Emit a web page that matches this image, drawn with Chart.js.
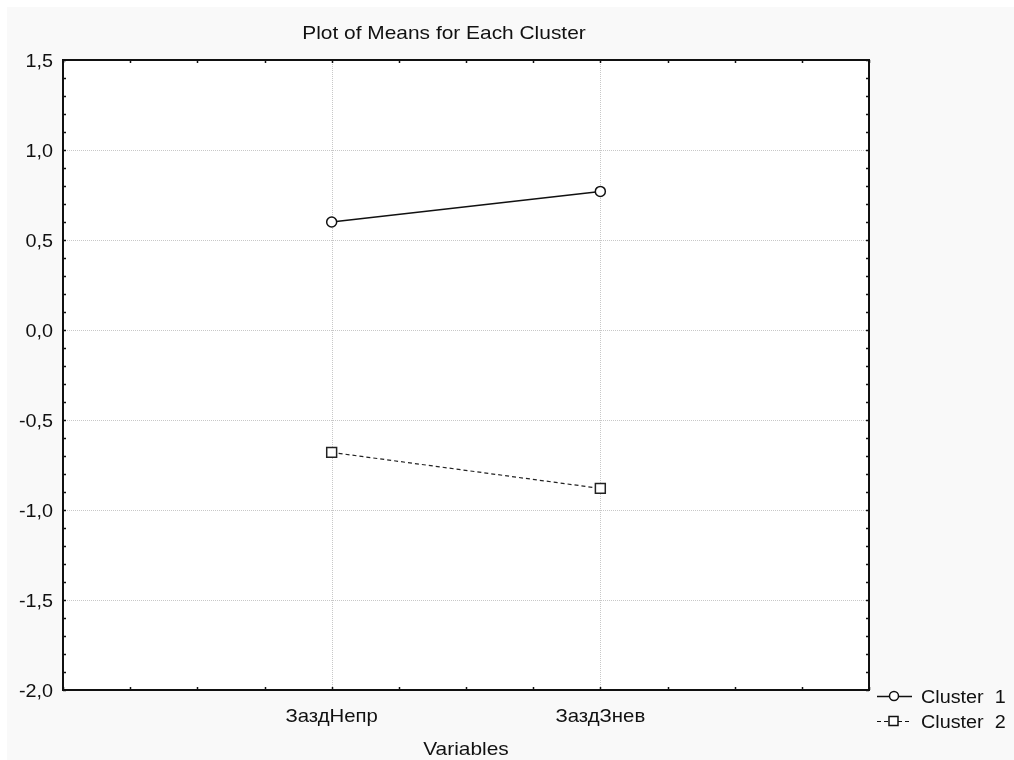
<!DOCTYPE html>
<html lang="ru">
  <head>
    <meta charset="UTF-8" />
    <title>Plot of Means for Each Cluster</title>
    <script src="https://cdn.jsdelivr.net/npm/chart.js"></script>
    <style>
      html, body { margin: 0; padding: 0; background: #ffffff; }
      #wrap { width: 1014px; height: 760px; }
    </style>
  </head>
  <body>
    <div id="wrap"><canvas id="myChart" width="1014" height="760"></canvas></div>
    <script>
      // данные графика
      var categories = ["ЗаздНепр", "ЗаздЗнев"];
      var cluster1 = [0.6, 0.77];
      var cluster2 = [-0.68, -0.88];
      var seriesNames = ["Cluster  1", "Cluster  2"];
      var yTicks = [1.5, 1.0, 0.5, 0.0, -0.5, -1.0, -1.5, -2.0];
      var chartTitle = "Plot of Means for Each Cluster";
      var xTitle = "Variables";

      var FONT = '"Liberation Sans", Arial, sans-serif';
      var SX = 1.1; // текст в оригинале немного растянут по горизонтали

      function stretchText(ctx, txt, x, y, size, align) {
        ctx.save();
        ctx.font = size + "px " + FONT;
        ctx.textBaseline = "alphabetic";
        ctx.textAlign = "left";
        var w = ctx.measureText(txt).width * SX;
        var left = align === "center" ? x - w / 2 : align === "right" ? x - w : x;
        ctx.translate(left, y);
        ctx.scale(SX, 1);
        ctx.fillStyle = "#111111";
        ctx.fillText(txt, 0, 0);
        ctx.restore();
      }

      function fmt(v) {
        return v.toFixed(1).replace(".", ",");
      }

      // фон, сетка, рамка, подписи
      var decor = {
        id: "decor",
        beforeDraw: function (chart) {
          var ctx = chart.ctx;
          var a = chart.chartArea;
          ctx.save();
          ctx.fillStyle = "#ffffff";
          ctx.fillRect(0, 0, chart.width, chart.height);
          ctx.fillStyle = "#f9f9f9";
          ctx.fillRect(7, 7, chart.width - 7, chart.height - 7);
          ctx.fillStyle = "#ffffff";
          ctx.fillRect(a.left, a.top, a.right - a.left, a.bottom - a.top);
          ctx.restore();
        },
        beforeDatasetsDraw: function (chart) {
          var ctx = chart.ctx;
          var a = chart.chartArea;
          var xs = chart.scales.x;
          var ys = chart.scales.y;
          ctx.save();
          ctx.strokeStyle = "#c8c8c8";
          ctx.lineWidth = 1;
          ctx.setLineDash([1, 1]);
          yTicks.forEach(function (v) {
            var y = Math.round(ys.getPixelForValue(v)) + 0.5;
            if (y <= a.top + 1 || y >= a.bottom - 1) return;
            ctx.beginPath();
            ctx.moveTo(a.left, y);
            ctx.lineTo(a.right, y);
            ctx.stroke();
          });
          categories.forEach(function (c, i) {
            var x = Math.round(xs.getPixelForValue(i + 1)) + 0.5;
            ctx.beginPath();
            ctx.moveTo(x, a.top);
            ctx.lineTo(x, a.bottom);
            ctx.stroke();
          });
          ctx.restore();
        },
        afterDatasetsDraw: function (chart) {
          var ctx = chart.ctx;
          var a = chart.chartArea;
          var xs = chart.scales.x;
          var ys = chart.scales.y;
          ctx.save();
          ctx.strokeStyle = "#111111";
          ctx.lineWidth = 1.5;
          // малые деления по Y через 0,1
          for (var k = -20; k <= 15; k++) {
            var y = Math.round(ys.getPixelForValue(k / 10)) + 0.5;
            ctx.beginPath();
            ctx.moveTo(a.left, y);
            ctx.lineTo(a.left + 3, y);
            ctx.moveTo(a.right, y);
            ctx.lineTo(a.right - 3, y);
            ctx.stroke();
          }
          // деления по X через 0,25
          for (var j = 0; j <= 12; j++) {
            var x = Math.round(xs.getPixelForValue(j / 4)) + 0.5;
            ctx.beginPath();
            ctx.moveTo(x, a.bottom);
            ctx.lineTo(x, a.bottom - 3);
            ctx.moveTo(x, a.top);
            ctx.lineTo(x, a.top + 3);
            ctx.stroke();
          }
          // рамка
          ctx.lineWidth = 2;
          ctx.strokeRect(a.left, a.top, a.right - a.left, a.bottom - a.top);
          ctx.restore();

          // подписи
          stretchText(ctx, chartTitle, 444, 39, 19, "center");
          yTicks.forEach(function (v) {
            stretchText(ctx, fmt(v), 53, ys.getPixelForValue(v) + 6.5, 18, "right");
          });
          categories.forEach(function (c, i) {
            stretchText(ctx, c, xs.getPixelForValue(i + 1), 722, 18.5, "center");
          });
          stretchText(ctx, xTitle, 466, 755, 19, "center");

          // легенда
          var legendY = [696, 721];
          chart.data.datasets.forEach(function (ds, i) {
            var ly = legendY[i];
            ctx.save();
            ctx.strokeStyle = "#111111";
            ctx.lineWidth = ds.borderWidth;
            ctx.setLineDash(ds.borderDash || []);
            ctx.beginPath();
            ctx.moveTo(877, ly + 0.5);
            ctx.lineTo(912, ly + 0.5);
            ctx.stroke();
            ctx.setLineDash([]);
            ctx.fillStyle = "#ffffff";
            ctx.lineWidth = 1.5;
            ctx.beginPath();
            if (ds.pointStyle === "rect") {
              ctx.rect(889, ly - 4.5, 9, 9);
            } else {
              ctx.arc(894, ly, 4.5, 0, Math.PI * 2);
            }
            ctx.fill();
            ctx.stroke();
            ctx.restore();
            stretchText(ctx, seriesNames[i], 921, ly + 7, 18, "left");
          });
        },
      };

      function toPoints(arr) {
        return arr.map(function (v, i) {
          return { x: i + 1, y: v };
        });
      }

      var ctx = document.getElementById("myChart").getContext("2d");
      var myChart = new Chart(ctx, {
        type: "scatter",
        data: {
          datasets: [
            {
              label: seriesNames[0],
              data: toPoints(cluster1),
              showLine: true,
              borderColor: "#111111",
              borderWidth: 1.5,
              pointStyle: "circle",
              pointRadius: 5,
              pointBorderWidth: 1.5,
              pointBackgroundColor: "#ffffff",
              pointBorderColor: "#111111",
            },
            {
              label: seriesNames[1],
              data: toPoints(cluster2),
              showLine: true,
              borderColor: "#222222",
              borderWidth: 1.2,
              borderDash: [4, 3],
              pointStyle: "rect",
              pointRadius: 7,
              pointBorderWidth: 1.5,
              pointBackgroundColor: "#ffffff",
              pointBorderColor: "#222222",
            },
          ],
        },
        options: {
          responsive: false,
          animation: false,
          devicePixelRatio: 1,
          layout: {
            padding: { left: 63, top: 60, right: 145, bottom: 70 },
          },
          scales: {
            x: { type: "linear", min: 0, max: 3, display: false },
            y: { type: "linear", min: -2, max: 1.5, display: false },
          },
          plugins: {
            legend: { display: false },
            title: { display: false },
            tooltip: { enabled: false },
          },
        },
        plugins: [decor],
      });
    </script>
  </body>
</html>
